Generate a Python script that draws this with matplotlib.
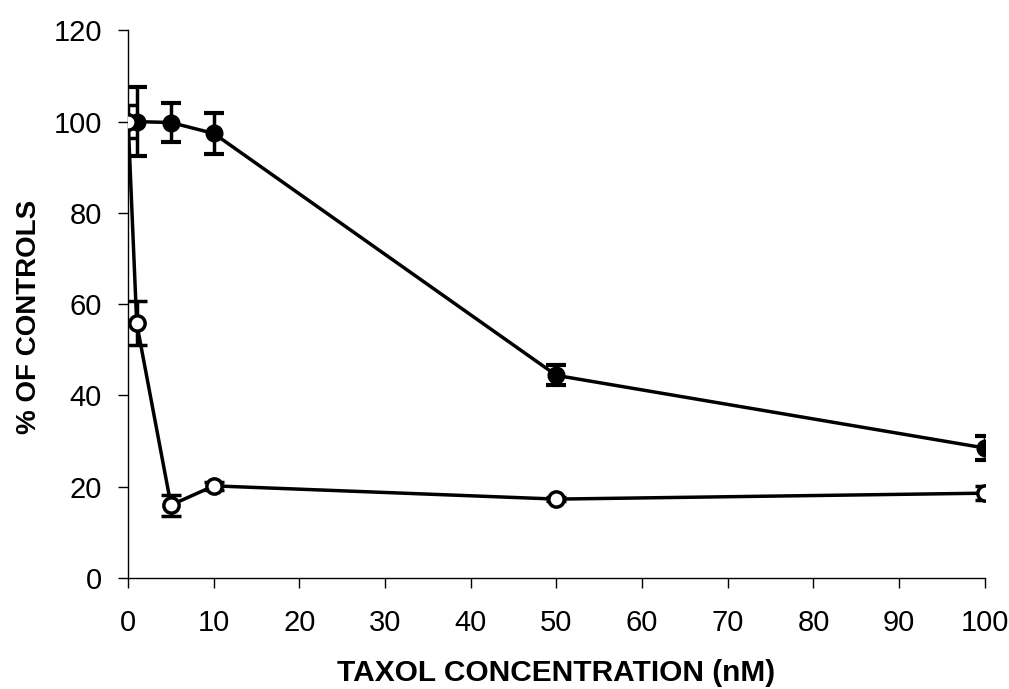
import matplotlib
matplotlib.use("Agg")
import matplotlib.pyplot as plt

# Data
filled_x = [1, 5, 10, 50, 100]
filled_y = [100, 99.8, 97.4, 44.4, 28.5]
filled_err = [7.5, 4.3, 4.4, 2.2, 2.6]

open_x = [0, 1, 5, 10, 50, 100]
open_y = [100, 55.8, 16.0, 20.2, 17.3, 18.6]
open_err = [3.7, 4.8, 2.3, 0.8, 0.5, 1.6]

x_ticks = [0, 10, 20, 30, 40, 50, 60, 70, 80, 90, 100]
y_ticks = [0, 20, 40, 60, 80, 100, 120]

plt.rcParams['font.family'] = ['Liberation Sans', 'DejaVu Sans']

fig = plt.figure(figsize=(10.09, 6.89), dpi=100)
ax = fig.add_axes([0.127, 0.161, 0.849, 0.795])

ax.errorbar(filled_x, filled_y, yerr=filled_err, color='black', lw=2.5,
            marker='o', markersize=12, markerfacecolor='black',
            markeredgecolor='black', elinewidth=2.5, capsize=7, capthick=3,
            zorder=3)
ax.errorbar(open_x, open_y, yerr=open_err, color='black', lw=2.5,
            marker='o', markersize=11, markerfacecolor='white',
            markeredgecolor='black', markeredgewidth=2.5, elinewidth=2.5,
            capsize=7, capthick=3, zorder=4)

ax.set_xlim(0, 100)
ax.set_ylim(0, 120)
ax.set_xticks(x_ticks)
ax.set_yticks(y_ticks)
ax.tick_params(axis='both', labelsize=21, direction='out', length=7, width=1)
ax.tick_params(axis='x', pad=15)
ax.tick_params(axis='y', pad=12)
for s in ['top', 'right']:
    ax.spines[s].set_visible(False)
for s in ['left', 'bottom']:
    ax.spines[s].set_linewidth(1)

ax.set_xlabel('TAXOL CONCENTRATION (nM)', fontsize=21.5, fontweight='bold', labelpad=16)
ax.set_ylabel('% OF CONTROLS', fontsize=20, fontweight='bold')
ax.yaxis.set_label_coords(-0.1, 0.476)

fig.savefig('out.png', dpi=100)
